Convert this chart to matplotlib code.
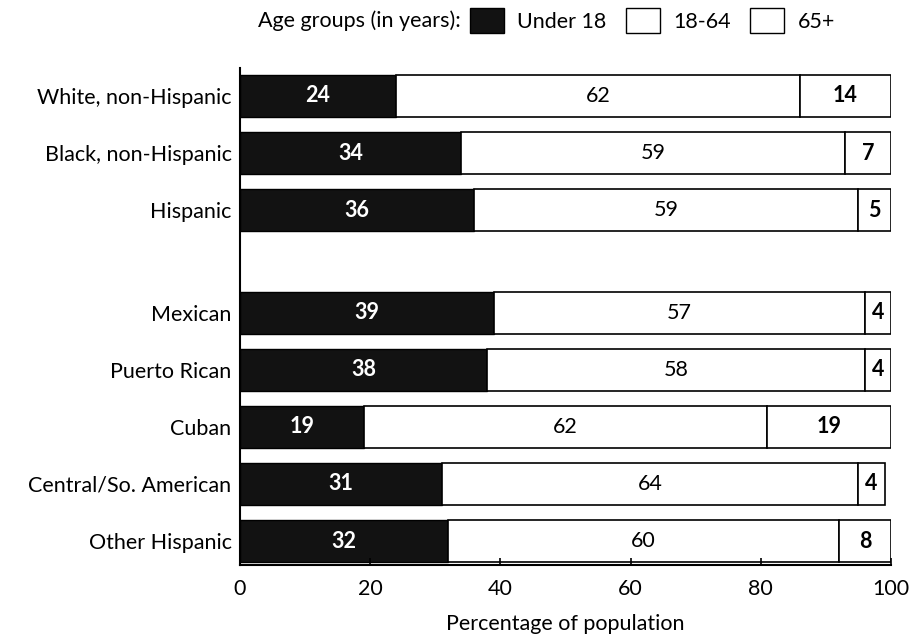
import matplotlib
matplotlib.use("Agg")
import matplotlib.pyplot as plt
from matplotlib.patches import Patch

categories = ["White, non-Hispanic", "Black, non-Hispanic", "Hispanic",
              "Mexican", "Puerto Rican", "Cuban", "Central/So. American", "Other Hispanic"]
under18 = [24, 34, 36, 39, 38, 19, 31, 32]
age18_64 = [62, 59, 59, 57, 58, 62, 64, 60]
age65 = [14, 7, 5, 4, 4, 19, 4, 8]
series_names = ["Under 18", "18-64", "65+"]
xticks = [0, 20, 40, 60, 80, 100]

plt.rcParams['font.family'] = ['Lato', 'DejaVu Sans']
fs = 15.5

fig = plt.figure(figsize=(9.12, 6.38), dpi=100)
ax = fig.add_axes([0.263, 0.1144, 0.714, 0.779])

ypos = [0, 1, 2, 3.8, 4.8, 5.8, 6.8, 7.8]
h = 0.73
dark = "#121212"
ax.barh(ypos, under18, height=h, color=dark, edgecolor="black", linewidth=1.0)
ax.barh(ypos, age18_64, left=under18, height=h, color="white", edgecolor="black", linewidth=1.2)
lefts3 = [a + b for a, b in zip(under18, age18_64)]
ax.barh(ypos, age65, left=lefts3, height=h, color="white", edgecolor="black", linewidth=1.2)

for y, a, b, c, l3 in zip(ypos, under18, age18_64, age65, lefts3):
    ax.text(a / 2, y, str(a), color="white", ha="center", va="center",
            fontsize=fs, fontweight="bold")
    ax.text(a + b / 2, y, str(b), color="black", ha="center", va="center",
            fontsize=fs)
    ax.text(l3 + c / 2, y, str(c), color="black", ha="center", va="center",
            fontsize=fs, fontweight="bold")

ax.set_xlim(0, 100)
ax.set_ylim(8.22, -0.49)
ax.set_yticks(ypos)
ax.set_yticklabels(categories, fontsize=fs)
ax.set_xticks(xticks)
ax.set_xticklabels([str(t) for t in xticks], fontsize=fs)
ax.tick_params(axis="y", length=0, pad=6)
ax.tick_params(axis="x", direction="in", length=5, width=1.2, pad=10)
ax.spines["top"].set_visible(False)
ax.spines["right"].set_visible(False)
ax.spines["left"].set_linewidth(1.5)
ax.spines["bottom"].set_linewidth(1.5)
ax.set_xlabel("Percentage of population", fontsize=fs, labelpad=11)

fig.text(0.505, 0.968, "Age groups (in years):", fontsize=fs, ha="right", va="center")
handles = [Patch(facecolor=dark, edgecolor="black", linewidth=1.0),
           Patch(facecolor="white", edgecolor="black", linewidth=1.0),
           Patch(facecolor="white", edgecolor="black", linewidth=1.0)]
fig.legend(handles, series_names, ncol=3, frameon=False, loc="center left",
           bbox_to_anchor=(0.515, 0.968), fontsize=fs, handlelength=1.6,
           handleheight=1.4, handletextpad=0.6, columnspacing=0.9,
           borderaxespad=0, borderpad=0)

fig.savefig("out.png", dpi=100)
